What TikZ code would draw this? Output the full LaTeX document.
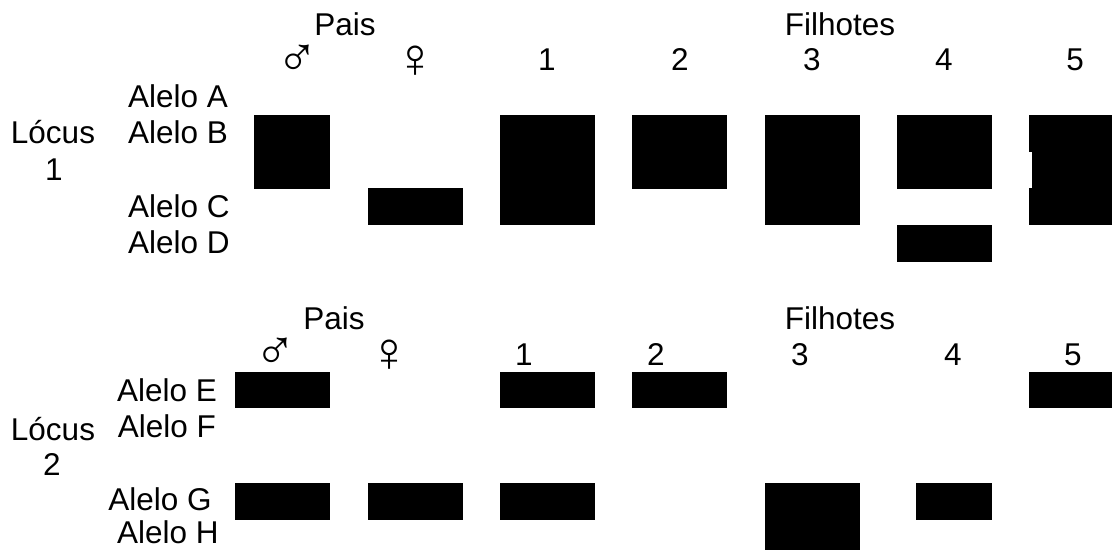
\documentclass[tikz,border=0pt]{standalone}
\usepackage{fontspec}
\setmainfont{Liberation Sans}
\begin{document}
\begin{tikzpicture}[x=1pt,y=-1pt,
  lbl/.style={inner sep=0pt,outer sep=0pt,anchor=base,font=\fontsize{31.5}{31.5}\selectfont},
  lblw/.style={lbl,anchor=base west},
  sym/.style={inner sep=0pt,outer sep=0pt,anchor=center,font=\fontsize{56}{56}\selectfont},
  band/.style={fill=black}]
\useasboundingbox (0,0) rectangle (1112,550);
% ---- Locus 1 ----
\node[lbl] (pais1) at (345,35) {Pais};
\node[lbl] (fil1) at (840,35) {Filhotes};
\node[sym] (m1) at (297,61) {♂};
\node[sym] (f1) at (415,62) {♀};
\node[lbl] (n11) at (547,70) {1};
\node[lbl] (n12) at (680,70) {2};
\node[lbl] (n13) at (812,70) {3};
\node[lbl] (n14) at (944,70) {4};
\node[lbl] (n15) at (1075,70) {5};
\node[lblw] (aA) at (128,107) {Alelo A};
\node[lblw] (aB) at (128,143) {Alelo B};
\node[lblw] (aC) at (128,217) {Alelo C};
\node[lblw] (aD) at (128,253) {Alelo D};
\node[lbl] (loc1) at (53,143) {Lócus};
\node[lbl] (loc1n) at (54,180) {1};
\fill[band] (254,115) rectangle (330,189);
\fill[band] (368,188) rectangle (463,225);
\fill[band] (500,115) rectangle (595,225);
\fill[band] (632,115) rectangle (727,189);
\fill[band] (765,115) rectangle (860,225);
\fill[band] (897,115) rectangle (992,189);
\fill[band] (897,225) rectangle (992,262);
\fill[band] (1029,115) rectangle (1112,152);
\fill[band] (1031.5,152) rectangle (1112,188);
\fill[band] (1029,188) rectangle (1112,225);
% ---- Locus 2 ----
\node[lbl] (pais2) at (334,329) {Pais};
\node[lbl] (fil2) at (840,329) {Filhotes};
\node[sym] (m2) at (275,354) {♂};
\node[sym] (f2) at (389,356) {♀};
\node[lbl] (n21) at (524,365) {1};
\node[lbl] (n22) at (656,365) {2};
\node[lbl] (n23) at (800,365) {3};
\node[lbl] (n24) at (953,365) {4};
\node[lbl] (n25) at (1073,365) {5};
\node[lbl] (aE) at (167,401) {Alelo E};
\node[lbl] (aF) at (167,437) {Alelo F};
\node[lbl] (aG) at (160,510) {Alelo G};
\node[lbl] (aH) at (168,543) {Alelo H};
\node[lbl] (loc2) at (53,440) {Lócus};
\node[lbl] (loc2n) at (52,475) {2};
\fill[band] (235,372) rectangle (330,408);
\fill[band] (235,483) rectangle (330,520);
\fill[band] (368,483) rectangle (463,520);
\fill[band] (500,372) rectangle (595,408);
\fill[band] (500,483) rectangle (595,520);
\fill[band] (632,372) rectangle (727,408);
\fill[band] (765,483) rectangle (860,550);
\fill[band] (916,483) rectangle (992,520);
\fill[band] (1029,372) rectangle (1112,408);
\end{tikzpicture}
\end{document}
